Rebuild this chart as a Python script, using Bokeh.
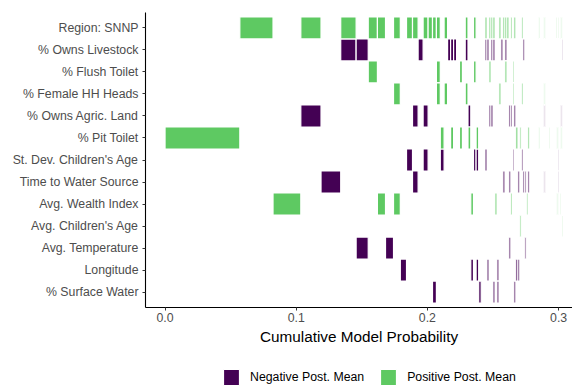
import numpy as np
from bokeh.plotting import figure
from bokeh.layouts import column
from bokeh.models import (ColumnDataSource, FactorRange, Range1d, FixedTicker,
                          PrintfTickFormatter, Legend, LegendItem)
from bokeh.embed import file_html
from bokeh.resources import INLINE

# Variables shown on the y axis (top to bottom) and their short codes
variables = ["Region: SNNP", "% Owns Livestock", "% Flush Toilet", "% Female HH Heads",
             "% Owns Agric. Land", "% Pit Toilet", "St. Dev. Children's Age",
             "Time to Water Source", "Avg. Wealth Index", "Avg. Children's Age",
             "Avg. Temperature", "Longitude", "% Surface Water"]
var_codes = ["snnp", "livestock", "flush", "female", "agric", "pit", "sd_age",
             "water", "wealth", "age", "temp", "lon", "surface"]
# Sign of each variable's posterior mean
var_sign = [1, -1, 1, 1, -1, 1, -1, -1, 1, 1, -1, -1, -1]

# Posterior probability of each model, in rank order
model_prob = [0.05701, 0.02530, 0.02119, 0.01540, 0.01502, 0.01174, 0.00922, 0.00701,
              0.00617, 0.00610, 0.00518, 0.00473, 0.00457, 0.00427, 0.00381, 0.00381,
              0.00335, 0.00297, 0.00297, 0.00290, 0.00267, 0.00229, 0.00229, 0.00229,
              0.00221, 0.00221, 0.00213, 0.00213, 0.00213, 0.00206, 0.00198, 0.00198,
              0.00191, 0.00145, 0.00145,
              0.00152, 0.00152, 0.00152, 0.00152, 0.00152, 0.00152, 0.00152, 0.00152,
              0.00152, 0.00152, 0.00152, 0.00152,
              0.00145, 0.00122, 0.00114, 0.00145, 0.00160, 0.00141, 0.00118, 0.00126,
              0.00137, 0.00118, 0.00122, 0.00137,
              0.00095, 0.00095,
              0.00099, 0.00099, 0.00099, 0.00099, 0.00099, 0.00099, 0.00099, 0.00099,
              0.00099, 0.00099, 0.00099, 0.00099, 0.00099, 0.00099, 0.00099, 0.00099,
              0.00099, 0.00099, 0.00099, 0.00099, 0.00099, 0.00099, 0.00099, 0.00099,
              0.00099]

# Variables included in each model (same order as model_prob)
model_vars = ["pit", "snnp", "wealth", "snnp agric", "water", "snnp livestock",
              "livestock temp", "snnp flush", "snnp wealth", "temp", "snnp female wealth",
              "lon", "snnp sd_age", "snnp agric water", "livestock", "snnp agric sd_age",
              "snnp", "snnp surface", "snnp flush female", "pit sd_age", "snnp female",
              "livestock", "livestock pit", "livestock", "", "flush pit", "",
              "snnp livestock female", "agric pit", "wealth lon", "snnp flush sd_age",
              "sd_age lon pit", "surface", "", "",
              "snnp livestock sd_age", "livestock lon", "snnp flush agric",
              "snnp livestock agric", "snnp livestock surface", "wealth", "lon surface",
              "snnp female", "livestock", "snnp water", "snnp livestock flush", "snnp",
              "agric water temp", "snnp agric wealth", "flush female sd_age",
              "snnp agric surface", "pit lon", "water lon", "pit age", "snnp female sd_age",
              "livestock water", "water temp", "wealth", "pit water",
              "", "",
              "", "", "", "", "", "snnp pit", "", "", "", "snnp female agric water",
              "", "", "", "pit", "", "", "", "", "snnp", "wealth pit", "snnp sd_age water",
              "wealth", "snnp agric pit", "livestock age", ""]

legend_labels = ["Negative Post. Mean", "Positive Post. Mean"]

NEG_COLOR = "#440154"
POS_COLOR = "#5EC962"
FONT = "Liberation Sans"

# One tile per (model, included variable), placed along the cumulative probability
starts = np.concatenate([[0.0], np.cumsum(model_prob)[:-1]])
tiles = {"neg": dict(x=[], y=[], w=[]), "pos": dict(x=[], y=[], w=[])}
for start, prob, included in zip(starts, model_prob, model_vars):
    for code in included.split():
        i = var_codes.index(code)
        key = "pos" if var_sign[i] > 0 else "neg"
        tiles[key]["x"].append(start + prob / 2)
        tiles[key]["y"].append(variables[i])
        tiles[key]["w"].append(prob)

p = figure(width=572, height=352,
           x_range=Range1d(-0.0149, 0.3106),
           y_range=FactorRange(factors=variables[::-1], range_padding=0.2,
                               range_padding_units="absolute"),
           output_backend="svg", toolbar_location=None,
           min_border_left=145, min_border_right=0, min_border_top=12,
           min_border_bottom=45)

p.rect(x="x", y="y", width="w", height=1, source=ColumnDataSource(tiles["neg"]),
       fill_color=NEG_COLOR, line_color="white", line_width=1.2)
p.rect(x="x", y="y", width="w", height=1, source=ColumnDataSource(tiles["pos"]),
       fill_color=POS_COLOR, line_color="white", line_width=1.2)

p.xgrid.visible = False
p.ygrid.visible = False
p.outline_line_color = None
p.background_fill_color = "white"

for ax in (p.xaxis[0], p.yaxis[0]):
    ax.axis_line_color = "black"
    ax.axis_line_width = 1.1
    ax.major_tick_line_color = "#333333"
    ax.major_tick_in = 0
    ax.major_tick_out = 3
    ax.minor_tick_line_color = None
    ax.major_label_text_font = FONT
    ax.major_label_text_font_size = "12.3px"
    ax.major_label_text_color = "#4D4D4D"

p.xaxis.ticker = FixedTicker(ticks=[0.0, 0.1, 0.2, 0.3])
p.xaxis.formatter = PrintfTickFormatter(format="%.1f")
p.xaxis.major_label_standoff = 2
p.xaxis.axis_label = "Cumulative Model Probability"
p.xaxis.axis_label_text_font = FONT
p.xaxis.axis_label_text_font_size = "15.3px"
p.xaxis.axis_label_text_font_style = "normal"
p.xaxis.axis_label_text_color = "black"
p.xaxis.axis_label_standoff = 3
p.yaxis.major_label_standoff = 4

# Legend strip under the chart; its key glyphs sit outside the strip's ranges
leg = figure(width=572, height=37, x_range=Range1d(0, 1), y_range=Range1d(0, 1),
             output_backend="svg", toolbar_location=None, min_border=0)
leg.axis.visible = False
leg.grid.visible = False
leg.outline_line_color = None
neg_key = leg.rect(x=[5], y=[5], width=0.1, height=0.1, fill_color=NEG_COLOR,
                   line_color="white", line_width=1.2)
pos_key = leg.rect(x=[5], y=[5], width=0.1, height=0.1, fill_color=POS_COLOR,
                   line_color="white", line_width=1.2)
legend = Legend(items=[LegendItem(label=legend_labels[0], renderers=[neg_key]),
                       LegendItem(label=legend_labels[1], renderers=[pos_key])],
                orientation="horizontal", location=(76, 2),
                border_line_color=None, background_fill_alpha=0,
                padding=0, margin=0, glyph_width=20, glyph_height=20,
                label_standoff=9, spacing=14, label_text_font=FONT,
                label_text_font_size="12.3px", label_text_color="black")
leg.add_layout(legend)

open("out.html", "w").write(file_html(column(p, leg, spacing=0), INLINE))
